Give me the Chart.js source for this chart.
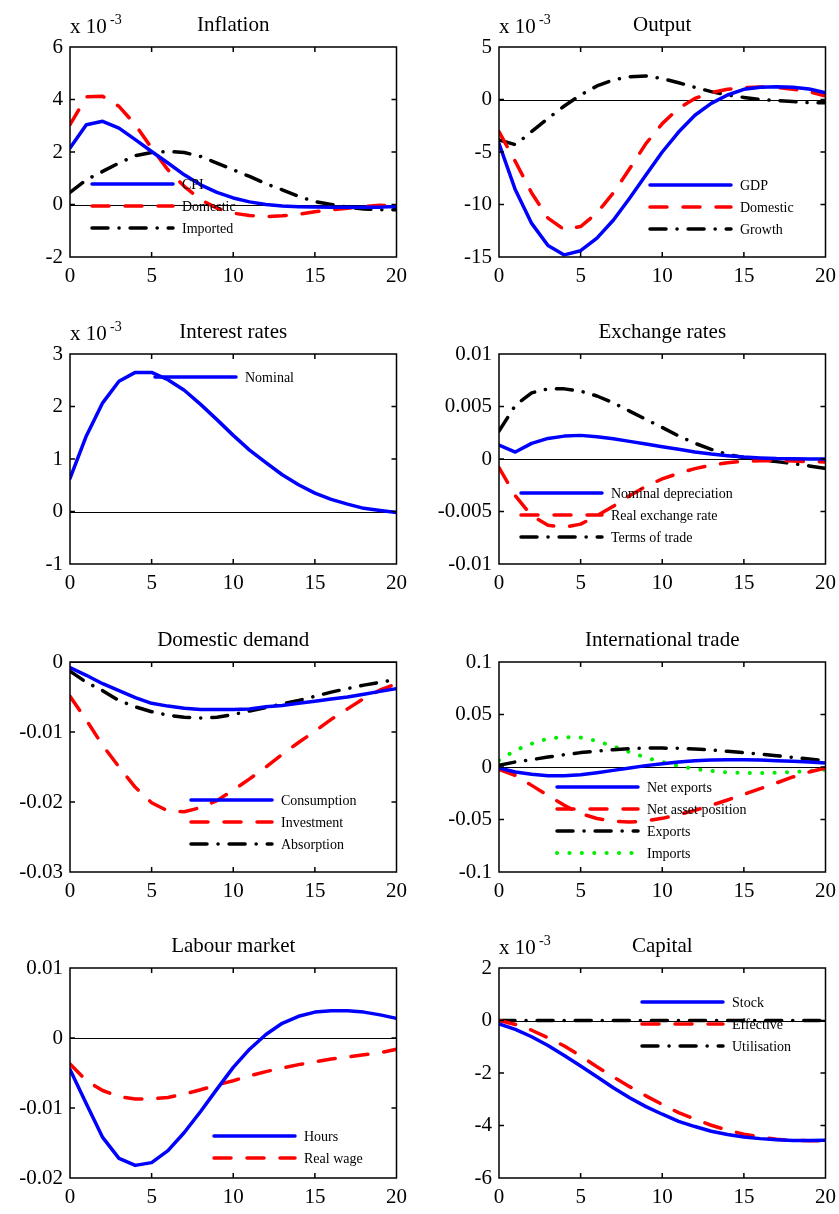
<!DOCTYPE html>
<html>
<head>
<meta charset="utf-8">
<script src="https://cdn.jsdelivr.net/npm/chart.js@4"></script>
<style>
  body { margin: 0; background: #fff; width: 839px; height: 1214px; position: relative; overflow: hidden; }
  canvas { position: absolute; }
</style>
</head>
<body>
<canvas id="c1" width="414" height="291" style="left:0px;top:1px"></canvas>
<canvas id="c2" width="414" height="291" style="left:429px;top:1px"></canvas>
<canvas id="c3" width="414" height="291" style="left:0px;top:308px"></canvas>
<canvas id="c4" width="414" height="291" style="left:429px;top:308px"></canvas>
<canvas id="c5" width="414" height="291" style="left:0px;top:616px"></canvas>
<canvas id="c6" width="414" height="291" style="left:429px;top:616px"></canvas>
<canvas id="c7" width="414" height="291" style="left:0px;top:922px"></canvas>
<canvas id="c8" width="414" height="291" style="left:429px;top:922px"></canvas>
<script>
const periods = [0, 1, 2, 3, 4, 5, 6, 7, 8, 9, 10, 11, 12, 13, 14, 15, 16, 17, 18, 19, 20];

// Inflation (x 10^-3)
const cpi = [2.15, 3.04, 3.17, 2.91, 2.47, 2.02, 1.58, 1.13, 0.75, 0.46, 0.25, 0.10, 0.00, -0.06, -0.09, -0.10, -0.10, -0.10, -0.10, -0.10, -0.08];
const inflDomestic = [3.04, 4.10, 4.12, 3.74, 3.04, 2.15, 1.32, 0.69, 0.18, -0.14, -0.33, -0.42, -0.46, -0.43, -0.37, -0.28, -0.20, -0.14, -0.08, -0.03, -0.05];
const inflImported = [0.46, 0.94, 1.26, 1.58, 1.86, 1.98, 2.02, 1.98, 1.83, 1.58, 1.32, 1.07, 0.79, 0.56, 0.31, 0.11, 0.00, -0.10, -0.17, -0.20, -0.20];

// Output (x 10^-3)
const gdp = [-4.2, -8.6, -11.8, -13.9, -14.8, -14.4, -13.2, -11.5, -9.4, -7.2, -5.0, -3.1, -1.5, -0.37, 0.43, 0.97, 1.16, 1.22, 1.16, 1.0, 0.65];
const outDomestic = [-3.06, -5.9, -8.9, -11.3, -12.4, -12.1, -10.8, -8.9, -6.6, -4.2, -2.3, -0.84, 0.1, 0.65, 0.97, 1.13, 1.19, 1.16, 0.97, 0.75, 0.33];
const growth = [-3.86, -4.3, -3.06, -1.8, -0.62, 0.43, 1.29, 1.86, 2.17, 2.24, 2.0, 1.6, 1.16, 0.75, 0.43, 0.2, 0.0, -0.1, -0.2, -0.3, -0.3];

// Interest rates (x 10^-3)
const nominal = [0.63, 1.44, 2.07, 2.48, 2.65, 2.65, 2.51, 2.31, 2.04, 1.75, 1.45, 1.17, 0.93, 0.70, 0.51, 0.35, 0.23, 0.14, 0.06, 0.02, -0.02];

// Exchange rates
const nomDepreciation = [0.00133, 0.00066, 0.00149, 0.00196, 0.00218, 0.00225, 0.00212, 0.00193, 0.00168, 0.00142, 0.00117, 0.00092, 0.00066, 0.00047, 0.00032, 0.00019, 0.0001, 0.00004, 0.00002, 0.00001, 0.0];
const realExchange = [-0.00082, -0.0035, -0.0054, -0.0063, -0.0065, -0.0062, -0.0054, -0.0045, -0.0035, -0.0026, -0.0019, -0.00136, -0.00092, -0.00057, -0.00035, -0.00022, -0.00016, -0.00016, -0.00019, -0.00025, -0.00028];
const termsOfTrade = [0.00266, 0.0051, 0.0063, 0.00668, 0.00668, 0.00646, 0.006, 0.00535, 0.00456, 0.00377, 0.003, 0.0022, 0.0015, 0.00092, 0.00044, 0.00013, -0.0001, -0.00025, -0.00044, -0.00066, -0.00089];

// Domestic demand
const consumption = [-0.00081, -0.0019, -0.0031, -0.0041, -0.0051, -0.0059, -0.0063, -0.0066, -0.0068, -0.0068, -0.0068, -0.0067, -0.0064, -0.0062, -0.0059, -0.0056, -0.0053, -0.005, -0.0046, -0.0042, -0.0038];
const investment = [-0.0049, -0.0083, -0.0119, -0.015, -0.0179, -0.0201, -0.0213, -0.0214, -0.0208, -0.0198, -0.0183, -0.0167, -0.015, -0.0132, -0.0115, -0.0099, -0.0082, -0.0067, -0.0052, -0.004, -0.0031];
const absorption = [-0.0013, -0.0029, -0.0041, -0.0055, -0.0064, -0.0071, -0.0076, -0.0079, -0.008, -0.0079, -0.0075, -0.007, -0.0065, -0.006, -0.0055, -0.0049, -0.0043, -0.0038, -0.0033, -0.0029, -0.0025];

// International trade
const netExports = [-0.001, -0.0048, -0.007, -0.0083, -0.0083, -0.0073, -0.0054, -0.0032, -0.001, 0.0013, 0.0032, 0.0048, 0.006, 0.0067, 0.007, 0.007, 0.0067, 0.006, 0.0054, 0.0048, 0.0038];
const netAssets = [-0.0022, -0.008, -0.0175, -0.027, -0.0365, -0.0444, -0.049, -0.0517, -0.0524, -0.0514, -0.0489, -0.0454, -0.0413, -0.0365, -0.0314, -0.026, -0.0206, -0.0152, -0.0095, -0.0048, -0.001];
const exportsArr = [0.0016, 0.0048, 0.007, 0.0095, 0.0117, 0.0137, 0.0152, 0.0165, 0.0175, 0.018, 0.018, 0.0178, 0.0171, 0.0162, 0.0149, 0.0137, 0.0124, 0.0108, 0.0092, 0.0076, 0.006];
const importsArr = [0.0063, 0.0159, 0.0222, 0.027, 0.0286, 0.028, 0.0248, 0.0197, 0.0143, 0.0089, 0.0048, 0.001, -0.0019, -0.0038, -0.0051, -0.0057, -0.0057, -0.0054, -0.0048, -0.0038, -0.0025];

// Labour market
const hours = [-0.0045, -0.0094, -0.0142, -0.0172, -0.0182, -0.0178, -0.0161, -0.0135, -0.0105, -0.0073, -0.0042, -0.0016, 0.0005, 0.0021, 0.0031, 0.0037, 0.0039, 0.0039, 0.0037, 0.0033, 0.0028];
const realWage = [-0.0037, -0.0061, -0.0075, -0.0084, -0.0087, -0.0087, -0.0085, -0.008, -0.0074, -0.0067, -0.0061, -0.0054, -0.0048, -0.0043, -0.0038, -0.0034, -0.003, -0.0027, -0.0024, -0.0021, -0.0016];

// Capital (x 10^-3)
const capStock = [-0.13, -0.34, -0.62, -0.95, -1.33, -1.73, -2.14, -2.56, -2.94, -3.28, -3.57, -3.84, -4.04, -4.22, -4.34, -4.44, -4.50, -4.54, -4.57, -4.57, -4.56];
const capEffective = [0.0, -0.15, -0.37, -0.66, -0.97, -1.35, -1.76, -2.15, -2.52, -2.87, -3.2, -3.51, -3.76, -3.99, -4.18, -4.33, -4.44, -4.52, -4.57, -4.58, -4.58];
const utilisation = [0, 0, 0, 0, 0, 0, 0, 0, 0, 0, 0, 0, 0, 0, 0, 0, 0, 0, 0, 0, 0];

const SERIF = '"Liberation Serif", "Times New Roman", serif';
const styles = {
  solid:   { color: '#0000ff', dash: [], width: 3.5 },
  dashed:  { color: '#ff0000', dash: [17, 16], width: 3.5 },
  dashdot: { color: '#000000', dash: [16, 11, 0.1, 11], width: 3.5 },
  dotted:  { color: '#00ee00', dash: [0.1, 12.3], width: 4 }
};

// draws frame, inward ticks, zero line, title, exponent and legend
const decor = {
  id: 'decor',
  beforeDatasetsDraw(chart) {
    const a = chart.chartArea, y0 = chart.scales.y.getPixelForValue(0);
    const ctx = chart.ctx;
    ctx.save();
    ctx.strokeStyle = '#000';
    ctx.lineWidth = 1;
    ctx.beginPath();
    ctx.moveTo(a.left, Math.round(y0) + 0.5);
    ctx.lineTo(a.right, Math.round(y0) + 0.5);
    ctx.stroke();
    ctx.restore();
  },
  afterDraw(chart, args, opts) {
    const a = chart.chartArea, ctx = chart.ctx;
    const sx = chart.scales.x, sy = chart.scales.y;
    ctx.save();
    ctx.strokeStyle = '#000';
    ctx.lineWidth = 1.5;
    ctx.strokeRect(a.left, a.top, a.right - a.left, a.bottom - a.top);
    ctx.beginPath();
    sx.ticks.forEach(t => {
      const px = sx.getPixelForValue(t.value);
      if (px <= a.left + 1 || px >= a.right - 1) return;
      ctx.moveTo(px, a.bottom); ctx.lineTo(px, a.bottom - 5);
      ctx.moveTo(px, a.top); ctx.lineTo(px, a.top + 5);
    });
    sy.ticks.forEach(t => {
      const py = sy.getPixelForValue(t.value);
      if (py <= a.top + 1 || py >= a.bottom - 1) return;
      ctx.moveTo(a.left, py); ctx.lineTo(a.left + 5, py);
      ctx.moveTo(a.right, py); ctx.lineTo(a.right - 5, py);
    });
    ctx.stroke();

    ctx.fillStyle = '#000';
    ctx.font = '21px ' + SERIF;
    ctx.textAlign = 'center';
    ctx.textBaseline = 'alphabetic';
    ctx.fillText(opts.title, (a.left + a.right) / 2, a.top - 16);
    if (opts.exponent) {
      ctx.textAlign = 'left';
      ctx.fillText('x 10', a.left, a.top - 14);
      ctx.font = '14px ' + SERIF;
      ctx.fillText('-3', a.left + 40, a.top - 23);
    }

    const lg = opts.legend;
    ctx.font = '14px ' + SERIF;
    ctx.textBaseline = 'middle';
    chart.data.datasets.forEach((ds, i) => {
      const y = a.top + lg.y + i * 22;
      const x = a.left + lg.x;
      ctx.strokeStyle = ds.borderColor;
      ctx.lineWidth = ds.borderWidth;
      ctx.lineCap = 'round';
      ctx.setLineDash(ds.borderDash);
      ctx.beginPath();
      ctx.moveTo(x + 2, y); ctx.lineTo(x + 83, y);
      ctx.stroke();
      ctx.setLineDash([]);
      ctx.fillStyle = '#000';
      ctx.textAlign = 'left';
      ctx.fillText(ds.label, x + 92, y + 1);
    });
    ctx.restore();
  }
};

function makePanel(id, title, exponent, yMin, yMax, yStep, legend, series) {
  new Chart(document.getElementById(id), {
    type: 'line',
    data: {
      datasets: series.map(s => ({
        label: s.label,
        data: periods.map((p, i) => ({ x: p, y: s.values[i] })),
        borderColor: styles[s.style].color,
        borderDash: styles[s.style].dash,
        borderCapStyle: 'round',
        borderJoinStyle: 'round',
        borderWidth: styles[s.style].width,
        pointRadius: 0,
        tension: 0,
        fill: false
      }))
    },
    options: {
      responsive: false,
      animation: false,
      layout: { padding: { top: 46, right: 14, left: 0, bottom: 0 } },
      plugins: {
        legend: { display: false },
        tooltip: { enabled: false },
        decor: { title: title, exponent: exponent, legend: legend }
      },
      scales: {
        x: {
          type: 'linear', min: 0, max: 20,
          ticks: { stepSize: 5, padding: 7, maxRotation: 0, color: '#000', font: { family: SERIF, size: 21 } },
          grid: { display: false, drawTicks: false },
          border: { display: false },
          afterFit: s => { s.height = 35; }
        },
        y: {
          min: yMin, max: yMax,
          ticks: {
            stepSize: yStep, padding: 7, color: '#000', font: { family: SERIF, size: 21 },
            callback: v => String(+v.toFixed(6))
          },
          grid: { display: false, drawTicks: false },
          border: { display: false },
          afterFit: s => { s.width = 70; }
        }
      }
    },
    plugins: [decor]
  });
}

makePanel('c1', 'Inflation', true, -2, 6, 2, { x: 20, y: 137 }, [
  { label: 'CPI', values: cpi, style: 'solid' },
  { label: 'Domestic', values: inflDomestic, style: 'dashed' },
  { label: 'Imported', values: inflImported, style: 'dashdot' }
]);
makePanel('c2', 'Output', true, -15, 5, 5, { x: 149, y: 138 }, [
  { label: 'GDP', values: gdp, style: 'solid' },
  { label: 'Domestic', values: outDomestic, style: 'dashed' },
  { label: 'Growth', values: growth, style: 'dashdot' }
]);
makePanel('c3', 'Interest rates', true, -1, 3, 1, { x: 83, y: 23 }, [
  { label: 'Nominal', values: nominal, style: 'solid' }
]);
makePanel('c4', 'Exchange rates', false, -0.01, 0.01, 0.005, { x: 20, y: 139 }, [
  { label: 'Nominal depreciation', values: nomDepreciation, style: 'solid' },
  { label: 'Real exchange rate', values: realExchange, style: 'dashed' },
  { label: 'Terms of trade', values: termsOfTrade, style: 'dashdot' }
]);
makePanel('c5', 'Domestic demand', false, -0.03, 0, 0.01, { x: 119, y: 138 }, [
  { label: 'Consumption', values: consumption, style: 'solid' },
  { label: 'Investment', values: investment, style: 'dashed' },
  { label: 'Absorption', values: absorption, style: 'dashdot' }
]);
makePanel('c6', 'International trade', false, -0.1, 0.1, 0.05, { x: 56, y: 125 }, [
  { label: 'Net exports', values: netExports, style: 'solid' },
  { label: 'Net asset position', values: netAssets, style: 'dashed' },
  { label: 'Exports', values: exportsArr, style: 'dashdot' },
  { label: 'Imports', values: importsArr, style: 'dotted' }
]);
makePanel('c7', 'Labour market', false, -0.02, 0.01, 0.01, { x: 142, y: 168 }, [
  { label: 'Hours', values: hours, style: 'solid' },
  { label: 'Real wage', values: realWage, style: 'dashed' }
]);
makePanel('c8', 'Capital', true, -6, 2, 2, { x: 141, y: 34 }, [
  { label: 'Stock', values: capStock, style: 'solid' },
  { label: 'Effective', values: capEffective, style: 'dashed' },
  { label: 'Utilisation', values: utilisation, style: 'dashdot' }
]);
</script>
</body>
</html>
